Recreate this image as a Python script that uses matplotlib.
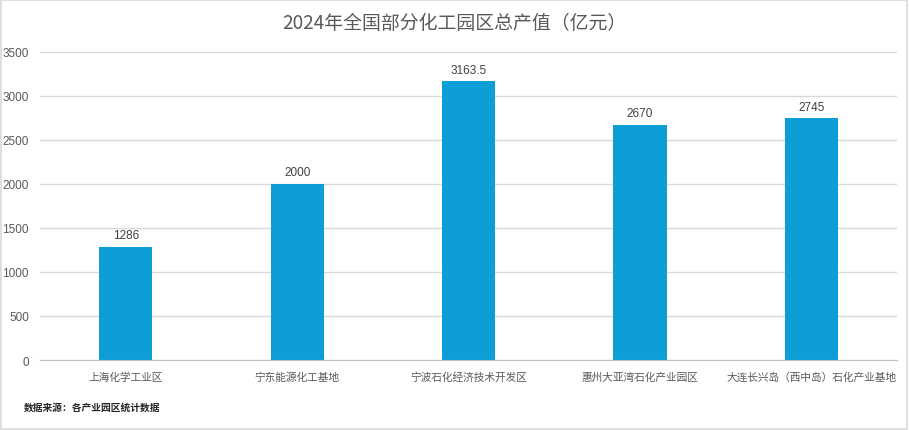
import matplotlib
matplotlib.use("Agg")
import matplotlib.pyplot as plt
from matplotlib.patches import Rectangle

plt.rcParams['font.family'] = ['Noto Sans CJK SC', 'DejaVu Sans']
NUMFONT = ['Liberation Sans', 'DejaVu Sans']

categories = ["上海化学工业区", "宁东能源化工基地", "宁波石化经济技术开发区", "惠州大亚湾石化产业园区", "大连长兴岛（西中岛）石化产业基地"]
values = [1286, 2000, 3163.5, 2670, 2745]
value_labels = ["1286", "2000", "3163.5", "2670", "2745"]
yticks = [0, 500, 1000, 1500, 2000, 2500, 3000, 3500]

fig = plt.figure(figsize=(9.09, 4.31), dpi=100)
fig.patches.append(Rectangle((0.001, 0.002), 0.997, 0.995, transform=fig.transFigure,
                             fill=False, edgecolor="#d9d9d9", linewidth=1.2))
ax = fig.add_axes([0.044, 0.1624, 0.943, 0.715])
x = range(len(categories))
ax.bar(x, values, width=0.31, color="#0E9ED7", zorder=3)
for i, (v, lab) in enumerate(zip(values, value_labels)):
    ax.annotate(lab, (i, v), xytext=(0, 4), textcoords="offset points",
                ha="center", va="bottom", fontsize=8.5, color="#404040", family=NUMFONT)
ax.set_xlim(-0.5, len(categories) - 0.5)
ax.set_ylim(0, 3500)
ax.set_yticks(yticks)
ax.set_yticklabels([str(t) for t in yticks], fontsize=8.5, color="#595959", family=NUMFONT)
ax.set_xticks(list(x))
ax.set_xticklabels(categories, fontsize=7.7, color="#595959")
ax.tick_params(axis="x", length=0, pad=8)
ax.tick_params(axis="y", length=0, pad=8)
ax.grid(axis="y", color="#d9d9d9", linewidth=1, zorder=0)
for s in ["top", "right", "left"]:
    ax.spines[s].set_visible(False)
ax.spines["bottom"].set_color("#bfbfbf")
ax.spines["bottom"].set_zorder(4)

fig.text(0.5, 0.946, "2024年全国部分化工园区总产值（亿元）", ha="center", va="center",
         fontsize=13.6, color="#595959")
fig.text(0.026, 0.053, "数据来源：各产业园区统计数据", ha="left", va="center",
         fontsize=7, color="#262626", fontweight="bold")

fig.savefig("out.png", dpi=100)
